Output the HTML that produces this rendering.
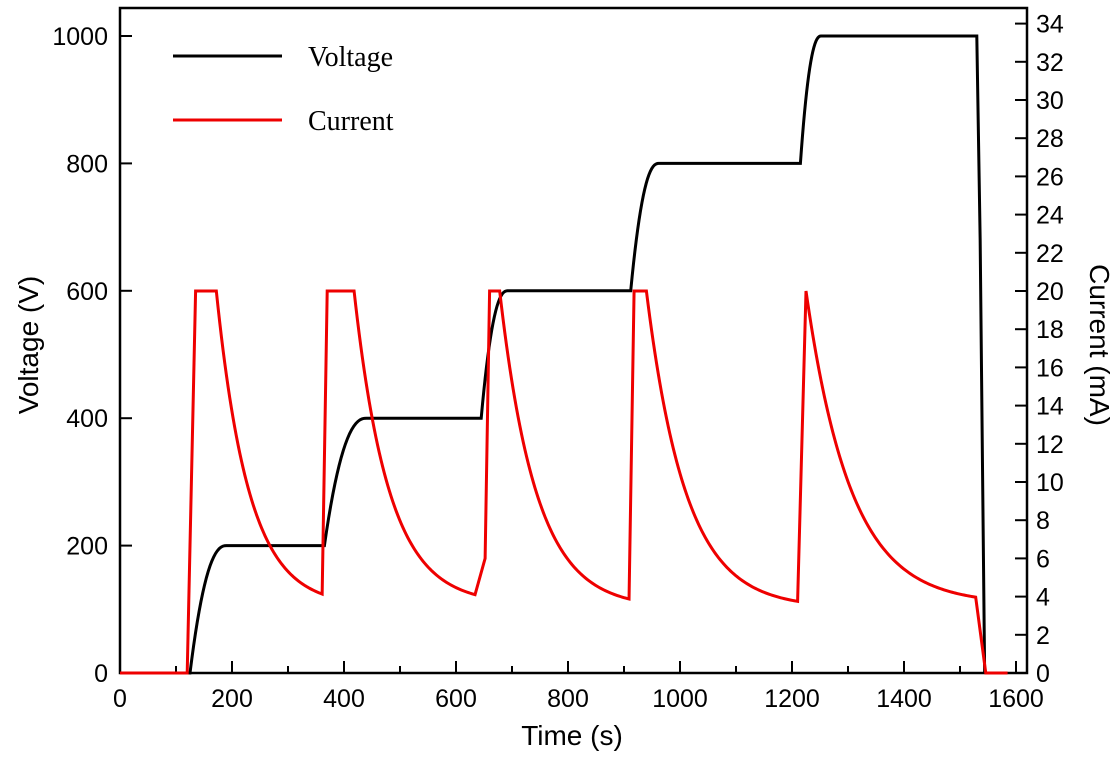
<!DOCTYPE html>
<html><head><meta charset="utf-8"><style>
body{margin:0;background:#fff;}
text{font-family:"Liberation Sans",Arial,sans-serif;fill:#000;}
</style></head><body>
<svg id="s" width="1118" height="752" xmlns="http://www.w3.org/2000/svg">
<rect x="120" y="8" width="907" height="665" fill="none" stroke="#000" stroke-width="2.5"/>
<g id="ticks" stroke="#000" stroke-width="2"></g>
<g id="labels" font-size="25"></g>
<text x="572" y="745" font-size="28" text-anchor="middle">Time (s)</text>
<text transform="translate(38,345) rotate(-90)" font-size="28" text-anchor="middle">Voltage (V)</text>
<text transform="translate(1090,345) rotate(90)" font-size="28" text-anchor="middle">Current (mA)</text>
<line x1="173" y1="56" x2="282" y2="56" stroke="#000" stroke-width="3"/>
<text x="308" y="66" font-size="28" style="font-family:'Liberation Serif',serif">Voltage</text>
<line x1="173" y1="120" x2="282" y2="120" stroke="#e00" stroke-width="3"/>
<text x="308" y="130" font-size="28" style="font-family:'Liberation Serif',serif">Current</text>
<polyline id="v" fill="none" stroke="#000" stroke-width="3"/>
<polyline id="c" fill="none" stroke="#e00" stroke-width="3"/>
</svg>
<script>
const X=t=>120+0.56*t, YV=v=>673-0.637*v, YI=i=>673-19.1*i;
let tk="",lb="";
for(let t=0;t<=1600;t+=100){const x=X(t);tk+=`<line x1="${x}" y1="673" x2="${x}" y2="${t%200?666:661}"/>`;
 if(t%200==0)lb+=`<text x="${x}" y="707" text-anchor="middle">${t}</text>`;}
for(let v=0;v<=1000;v+=200){const y=YV(v);tk+=`<line x1="120" y1="${y}" x2="132" y2="${y}"/>`;lb+=`<text x="108" y="${y+9}" text-anchor="end">${v}</text>`;}
for(let i=0;i<=34;i+=2){const y=YI(i);tk+=`<line x1="1027" y1="${y}" x2="1015" y2="${y}"/>`;lb+=`<text x="1036" y="${y+9}">${i}</text>`;}
document.getElementById('ticks').innerHTML=tk;document.getElementById('labels').innerHTML=lb;
let vp=[[0,0],[125,0]];
function ramp(t0,t1,v0,v1){for(let k=1;k<=20;k++){const s=k/20;vp.push([t0+(t1-t0)*s,v0+(v1-v0)*(1-Math.pow(1-s,2.3))]);}}
ramp(125,190,0,200);vp.push([365,200]);ramp(365,440,200,400);vp.push([645,400]);ramp(645,692,400,600);
vp.push([912,600]);ramp(912,962,600,800);vp.push([1215,800]);ramp(1215,1252,800,1000);vp.push([1530,1000],[1536,680],[1544,0]);
document.getElementById('v').setAttribute('points',vp.map(p=>X(p[0])+','+YV(p[1])).join(' '));
let cp=[[0,0],[120,0],[135,20]];
function decay(t0,t1,fl,tau){for(let t=t0;t<=t1;t+=3)cp.push([t,fl+(20-fl)*Math.exp(-(t-t0)/tau)]);}
cp.push([172,20]);decay(172,362,3.5,58);cp.push([370,20],[418,20]);decay(418,635,3.6,62);
cp.push([652,6],[660,20],[678,20]);decay(678,910,3.4,65);cp.push([918,20],[940,20]);decay(940,1212,3.4,70);
cp.push([1225,20]);decay(1225,1530,3.6,80);cp.push([1546,0],[1585,0]);
document.getElementById('c').setAttribute('points',cp.map(p=>X(p[0])+','+YI(p[1])).join(' '));
</script>
</body></html>
